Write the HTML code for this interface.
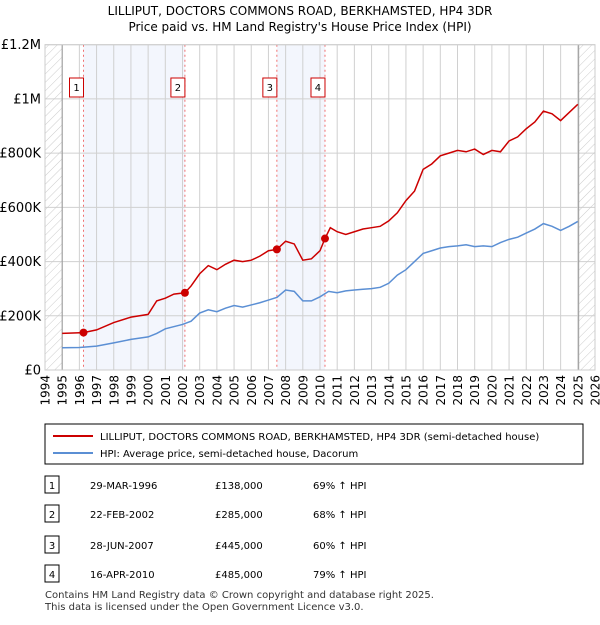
<!DOCTYPE html>
<html><head><meta charset="utf-8"><style>
body{margin:0;background:#fff;font-family:"Liberation Sans",sans-serif;}
svg text{font-family:"DejaVu Sans","Liberation Sans",sans-serif;}
</style></head><body>
<svg width="600" height="620" id="c">
<defs><pattern id="h" width="6" height="6" patternUnits="userSpaceOnUse" patternTransform="rotate(45)"><line x1="0" y1="0" x2="0" y2="6" stroke="#ccc" stroke-width="1"/></pattern></defs>
<text x="300" y="15" text-anchor="middle" font-size="12">LILLIPUT, DOCTORS COMMONS ROAD, BERKHAMSTED, HP4 3DR</text>
<text x="300" y="31" text-anchor="middle" font-size="12">Price paid vs. HM Land Registry's House Price Index (HPI)</text>
<g id="plot"></g>
<rect x="45" y="424" width="538" height="40" fill="#fff" stroke="#000"/>
<line x1="53" y1="436" x2="93" y2="436" stroke="#cc0000" stroke-width="2"/>
<text x="100" y="440" font-size="10">LILLIPUT, DOCTORS COMMONS ROAD, BERKHAMSTED, HP4 3DR (semi-detached house)</text>
<line x1="53" y1="453" x2="93" y2="453" stroke="#5b8fd4" stroke-width="2"/>
<text x="100" y="457" font-size="10">HPI: Average price, semi-detached house, Dacorum</text>
<g id="tbl" font-size="10"></g>
<text x="45" y="598" font-size="10" fill="#333">Contains HM Land Registry data © Crown copyright and database right 2025.</text>
<text x="45" y="610" font-size="10" fill="#333">This data is licensed under the Open Government Licence v3.0.</text>
</svg>
<script>
const hpiYears=[1995,1996,1997,1998,1999,2000,2000.5,2001,2002,2002.5,2003,2003.5,2004,2004.5,2005,2005.5,2006,2006.5,2007,2007.5,2008,2008.5,2009,2009.5,2010,2010.5,2011,2011.5,2012,2012.5,2013,2013.5,2014,2014.5,2015,2015.5,2016,2016.5,2017,2017.5,2018,2018.5,2019,2019.5,2020,2020.5,2021,2021.5,2022,2022.5,2023,2023.5,2024,2024.5,2025];
const hpiValues=[82,83,88,100,113,122,135,152,168,180,210,222,215,228,238,232,240,248,258,268,295,290,255,255,270,290,285,292,295,298,300,305,320,350,370,400,430,440,450,455,458,462,455,458,455,470,482,490,505,520,540,530,515,530,548];
const redYears=[1995,1996.24,1997,1998,1999,2000,2000.5,2001,2001.5,2002.14,2002.5,2003,2003.5,2004,2004.5,2005,2005.5,2006,2006.5,2007,2007.49,2008,2008.5,2009,2009.5,2010,2010.29,2010.6,2011,2011.5,2012,2012.5,2013,2013.5,2014,2014.5,2015,2015.5,2016,2016.5,2017,2017.5,2018,2018.5,2019,2019.5,2020,2020.5,2021,2021.5,2022,2022.5,2023,2023.5,2024,2024.5,2025];
const redValues=[135,138,148,175,195,205,255,265,280,285,310,355,385,370,390,405,400,405,420,440,445,475,465,405,410,440,485,525,510,500,510,520,525,530,550,580,625,660,740,760,790,800,810,805,815,795,810,805,845,860,890,915,955,945,920,950,980];
const saleYears=[1996.24,2002.14,2007.49,2010.29];
const saleValues=[138,285,445,485];
const saleLabels=["1","2","3","4"];
const yTicks=[0,200,400,600,800,1000,1200];
const yTickLabels=["£0","£200K","£400K","£600K","£800K","£1M","£1.2M"];
const xTicks=[1994,1995,1996,1997,1998,1999,2000,2001,2002,2003,2004,2005,2006,2007,2008,2009,2010,2011,2012,2013,2014,2015,2016,2017,2018,2019,2020,2021,2022,2023,2024,2025,2026];
const tDates=["29-MAR-1996","22-FEB-2002","28-JUN-2007","16-APR-2010"];
const tPrices=["£138,000","£285,000","£445,000","£485,000"];
const tPcts=["69% ↑ HPI","68% ↑ HPI","60% ↑ HPI","79% ↑ HPI"];
const L=45,R=595,T=44.7,B=370;
const X=y=>L+(y-1994)/32*(R-L);
const Y=v=>B-v/1200*(B-T);
const NS="http://www.w3.org/2000/svg";
const g=document.getElementById('plot');
function mk(tag,at,par){const e=document.createElementNS(NS,tag);for(const k in at)e.setAttribute(k,at[k]);(par||g).appendChild(e);return e;}
let e;
e=mk('rect',{x:X(saleYears[0]),y:T,width:X(saleYears[1])-X(saleYears[0]),height:B-T,fill:'#f3f6fd'});

e=mk('rect',{x:X(saleYears[2]),y:T,width:X(saleYears[3])-X(saleYears[2]),height:B-T,fill:'#f3f6fd'});

xTicks.forEach(t=>{e=mk('line',{x1:X(t),x2:X(t),y1:T,y2:B,stroke:'#d0d0d0'});

e=mk('text',{x:0,y:0,'font-size':12,'text-anchor':'end',transform:`translate(${X(t)+4.5},${B+5}) rotate(-90)`});e.textContent=t;
});
yTicks.forEach((t,i)=>{e=mk('line',{x1:L,x2:R,y1:Y(t),y2:Y(t),stroke:'#d0d0d0'});

e=mk('text',{x:L-4,y:Y(t)+4.5,'font-size':13,'text-anchor':'end'});e.textContent=yTickLabels[i];
});
e=mk('rect',{x:X(1994),y:T,width:X(1995)-X(1994),height:B-T,fill:'url(#h)'});

e=mk('rect',{x:X(2025.05),y:T,width:R-X(2025.05),height:B-T,fill:'url(#h)'});

e=mk('line',{x1:X(1995),x2:X(1995),y1:T,y2:B,stroke:'#999'});

e=mk('line',{x1:X(2025.05),x2:X(2025.05),y1:T,y2:B,stroke:'#999'});

saleYears.forEach((s,i)=>{e=mk('line',{x1:X(s),x2:X(s),y1:T,y2:B,stroke:'#f07070','stroke-dasharray':'2,3'});

e=mk('rect',{x:X(s)-14,y:78,width:14,height:19,fill:'#fff',stroke:'#cc0000'});

e=mk('text',{x:X(s)-7,y:91,'font-size':10,'text-anchor':'middle'});e.textContent=saleLabels[i];
});
e=mk('polyline',{points:hpiYears.map((y,i)=>X(y)+','+Y(hpiValues[i])).join(' '),fill:'none',stroke:'#5b8fd4','stroke-width':1.5});

e=mk('polyline',{points:redYears.map((y,i)=>X(y)+','+Y(redValues[i])).join(' '),fill:'none',stroke:'#cc0000','stroke-width':1.5});

saleYears.forEach((s,i)=>{e=mk('circle',{cx:X(s),cy:Y(saleValues[i]),r:4,fill:'#cc0000'});
});
e=mk('rect',{x:L,y:T,width:R-L,height:B-T,fill:'none',stroke:'#ccc'});

const tb=document.getElementById('tbl');
const rowsY=[485,514,545,574];
rowsY.forEach((ry,i)=>{
e=mk('rect',{x:45,y:ry-9,width:14,height:17,fill:'#fff',stroke:'#000'},tb);

e=mk('text',{x:52,y:ry+4,'text-anchor':'middle'},tb);e.textContent=saleLabels[i];

e=mk('text',{x:90,y:ry+4},tb);e.textContent=tDates[i];

e=mk('text',{x:215,y:ry+4},tb);e.textContent=tPrices[i];

e=mk('text',{x:313,y:ry+4},tb);e.textContent=tPcts[i];
});
</script>
</body></html>
